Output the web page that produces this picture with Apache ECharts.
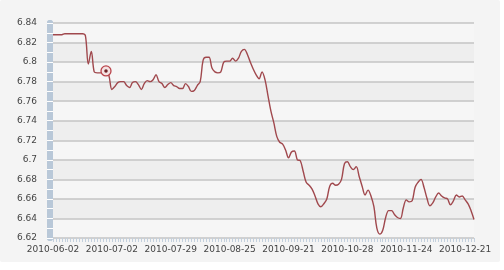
<!DOCTYPE html>
<html>
<head>
<meta charset="utf-8">
<script src="https://cdn.jsdelivr.net/npm/echarts@6/dist/echarts.min.js"></script>
<style>
html,body{margin:0;padding:0;background:#fff;}
#c{width:504px;height:270px;}
</style>
</head>
<body>
<div id="c"></div>
<script>
var dates = [
'06-02','06-03','06-04','06-07','06-08','06-09','06-10','06-11','06-12','06-17',
'06-18','06-21','06-22','06-23','06-24','06-25','06-28','06-29','06-30','07-01',
'07-02','07-03','07-05','07-06','07-07','07-08','07-09','07-12','07-13','07-14',
'07-15','07-16','07-19','07-20','07-21','07-22','07-23','07-26','07-27','07-28',
'07-29','07-30','07-31','08-02','08-03','08-04','08-05','08-06','08-09','08-10',
'08-11','08-12','08-13','08-16','08-17','08-18','08-19','08-20','08-23','08-24',
'08-25','08-26','08-27','08-28','08-30','08-31','09-01','09-02','09-03','09-06',
'09-07','09-08','09-09','09-10','09-13','09-14','09-15','09-16','09-17','09-20',
'09-21','09-26','09-27','09-28','09-29','09-30','10-08','10-11','10-12','10-13',
'10-14','10-15','10-18','10-19','10-20','10-21','10-22','10-25','10-26','10-27',
'10-28','10-29','10-30','11-01','11-02','11-03','11-04','11-05','11-08','11-09',
'11-10','11-11','11-12','11-15','11-16','11-17','11-18','11-19','11-22','11-23',
'11-24','11-25','11-26','11-27','11-29','11-30','12-01','12-02','12-03','12-06',
'12-07','12-08','12-09','12-10','12-13','12-14','12-15','12-16','12-17','12-20',
'12-21','12-22','12-23','12-24'
].map(function(d){return '2010-' + d;});

var rates = [
6.828,6.828,6.828,6.828,6.829,6.829,6.829,6.829,6.829,6.829,
6.829,6.827,6.798,6.811,6.790,6.789,6.789,6.789,6.791,6.786,
6.772,6.775,6.779,6.780,6.780,6.776,6.774,6.779,6.780,6.777,
6.772,6.778,6.781,6.780,6.782,6.787,6.780,6.778,6.774,6.777,
6.779,6.776,6.775,6.773,6.773,6.778,6.775,6.770,6.771,6.776,
6.780,6.802,6.805,6.805,6.794,6.790,6.789,6.790,6.800,6.801,
6.801,6.804,6.801,6.804,6.811,6.813,6.808,6.800,6.793,6.787,
6.783,6.790,6.782,6.766,6.750,6.738,6.724,6.718,6.716,6.710,
6.702,6.708,6.709,6.700,6.699,6.688,6.677,6.674,6.670,6.663,
6.655,6.652,6.655,6.660,6.673,6.676,6.674,6.675,6.680,6.696,
6.698,6.693,6.690,6.693,6.683,6.673,6.664,6.669,6.663,6.652,
6.630,6.624,6.628,6.641,6.648,6.648,6.644,6.641,6.640,6.651,
6.659,6.657,6.658,6.672,6.677,6.680,6.672,6.661,6.653,6.656,
6.662,6.666,6.663,6.661,6.660,6.654,6.658,6.664,6.662,6.663,
6.659,6.655,6.648,6.639
];

var tickLabels = ['2010-06-02','2010-07-02','2010-07-29','2010-08-25','2010-09-21','2010-10-28','2010-11-24','2010-12-21'];
var yTicks = [6.62,6.64,6.66,6.68,6.70,6.72,6.74,6.76,6.78,6.80,6.82,6.84];
var highlightIndex = 18;

var yMin = yTicks[0], yMax = yTicks[yTicks.length-1], yStep = 0.02;
var font = 'DejaVu Sans';

var chart = echarts.init(document.getElementById('c'), null, {renderer:'canvas'});
var barAxis = function(inside){
  return {
    type:'value', min:yMin, max:yMax, interval:yStep, position:'left', offset:3,
    axisLine:{show:true, lineStyle:{color:'#b9c8d8', width:6}},
    axisTick:{show:true, inside:inside, length:3, lineStyle:{color:'#ffffff', width:1}},
    minorTick:{show:true, splitNumber:2, length:3, lineStyle:{color:'#ffffff', width:1}},
    axisLabel:{show:false},
    splitLine:{show:false}
  };
};
chart.setOption({
  backgroundColor:'#ffffff',
  animation:false,
  graphic:[
    {type:'rect', z:-10, silent:true, shape:{x:0,y:0,width:500,height:262,r:2}, style:{fill:'#f4f4f4'}}
  ],
  grid:{left:53, right:30, top:23, bottom:32},
  xAxis:{
    type:'category', data:dates, boundaryGap:false,
    axisLine:{show:false},
    axisTick:{show:true, interval:0, length:4, lineStyle:{color:'#c3d0dd', width:1}},
    axisLabel:{
      interval:function(i, v){ return tickLabels.indexOf(v) >= 0; },
      align:'center',
      color:'#444', fontSize:9, fontFamily:font, margin:7
    },
    splitLine:{show:false}
  },
  yAxis:[{
    type:'value', min:yMin, max:yMax, interval:yStep,
    axisLine:{show:false}, axisTick:{show:false},
    axisLabel:{color:'#444', fontSize:9, fontFamily:font, margin:16, align:'right',
      formatter:function(v){ return String(parseFloat(v.toFixed(2))); }},
    splitLine:{show:true, lineStyle:{color:'#c4c4c4', width:1.5}},
    splitArea:{show:true, areaStyle:{color:['#f6f6f6','#eeeeee']}}
  }, barAxis(true), barAxis(false)],
  series:[{
    type:'line', data:rates, yAxisIndex:0, smooth:0.35, showSymbol:false,
    lineStyle:{color:'#a0484d', width:1.4},
    markPoint:{
      silent:true, label:{show:false},
      data:[
        {coord:[dates[highlightIndex], rates[highlightIndex]], symbol:'circle', symbolSize:10,
         itemStyle:{color:'#f4e2e2', borderColor:'#b9434a', borderWidth:1.3}},
        {coord:[dates[highlightIndex], rates[highlightIndex]], symbol:'circle', symbolSize:3.5,
         itemStyle:{color:'#6e2226'}}
      ]
    }
  }]
});
</script>
</body>
</html>
